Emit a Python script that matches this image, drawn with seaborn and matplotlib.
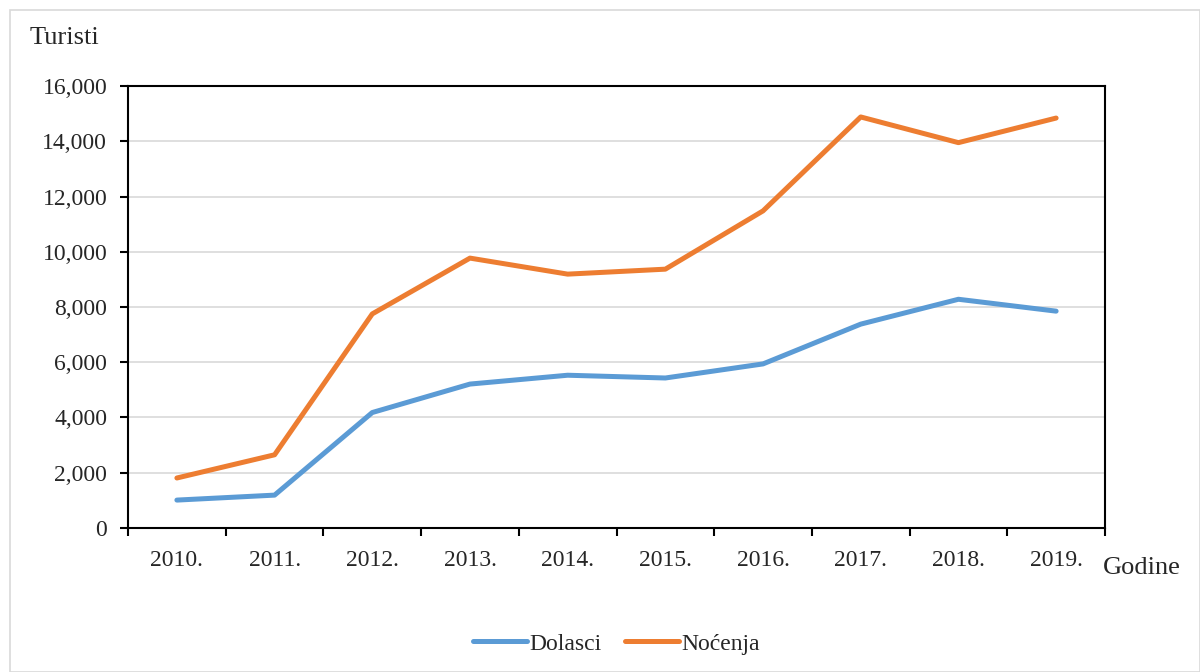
import pandas as pd
import numpy as np
import seaborn as sns
import matplotlib.pyplot as plt
from matplotlib.patches import Rectangle
from matplotlib.ticker import FuncFormatter, FixedLocator

years = ['2010.', '2011.', '2012.', '2013.', '2014.', '2015.', '2016.', '2017.', '2018.', '2019.']
dolasci = [1010, 1190, 4180, 5210, 5530, 5430, 5940, 7380, 8280, 7850]
nocenja = [1810, 2650, 7750, 9770, 9190, 9370, 11480, 14880, 13950, 14840]

df = pd.DataFrame({
    'pos': list(range(len(years))) * 2,
    'value': dolasci + nocenja,
    'serija': ['Dolasci'] * len(years) + ['Noćenja'] * len(years),
})

sns.set_theme(style="white")
plt.rcParams['font.family'] = ['Liberation Serif', 'DejaVu Serif']

fig = plt.figure(figsize=(12, 6.72), dpi=100)
ax = fig.add_axes([0.1067, 0.2143, 0.8141, 0.6577])

# light outer frame of the chart area
fig.patches.append(Rectangle((10 / 1200, 0), 1 - 10 / 1200, 1 - 10 / 672,
                             transform=fig.transFigure, fill=False,
                             edgecolor='#d9d9d9', linewidth=1.2))

sns.lineplot(data=df, x='pos', y='value', hue='serija',
             palette=['#5b9bd5', '#ed7d31'], linewidth=3.6, ax=ax,
             solid_capstyle='round', solid_joinstyle='round')

ax.set_xlim(-0.5, len(years) - 0.5)
ax.set_ylim(0, 16000)
ax.set_yticks(np.arange(0, 16001, 2000))
ax.yaxis.set_major_formatter(FuncFormatter(lambda v, p: f'{int(v):,}'))
ax.yaxis.grid(True, color='#d9d9d9', linewidth=1.2)
ax.set_axisbelow(True)

ax.set_xticks(range(len(years)))
ax.set_xticklabels(years)
ax.xaxis.set_minor_locator(FixedLocator(np.arange(-0.5, len(years), 1)))
ax.tick_params(axis='x', which='major', length=0, labelsize=17, pad=16)
ax.tick_params(axis='x', which='minor', length=6, width=1.5, color='black', direction='out', bottom=True)
ax.tick_params(axis='y', length=6, width=1.5, color='black', direction='out', left=True, labelsize=17, pad=9)

for s in ax.spines.values():
    s.set_color('black')
    s.set_linewidth(1.5)

ax.set_xlabel('')
ax.set_ylabel('')
fig.text(30 / 1200, 1 - 38 / 672, 'Turisti', fontsize=19, va='center', ha='left')
fig.text(1103 / 1200, 1 - 568 / 672, 'Godine', fontsize=19, va='center', ha='left')

ax.legend(loc='upper center', bbox_to_anchor=(0.5, -0.19), ncol=2, frameon=False,
          fontsize=17, handlelength=2.3, handletextpad=0.1, columnspacing=1.0)

fig.savefig('out.png', dpi=100)
